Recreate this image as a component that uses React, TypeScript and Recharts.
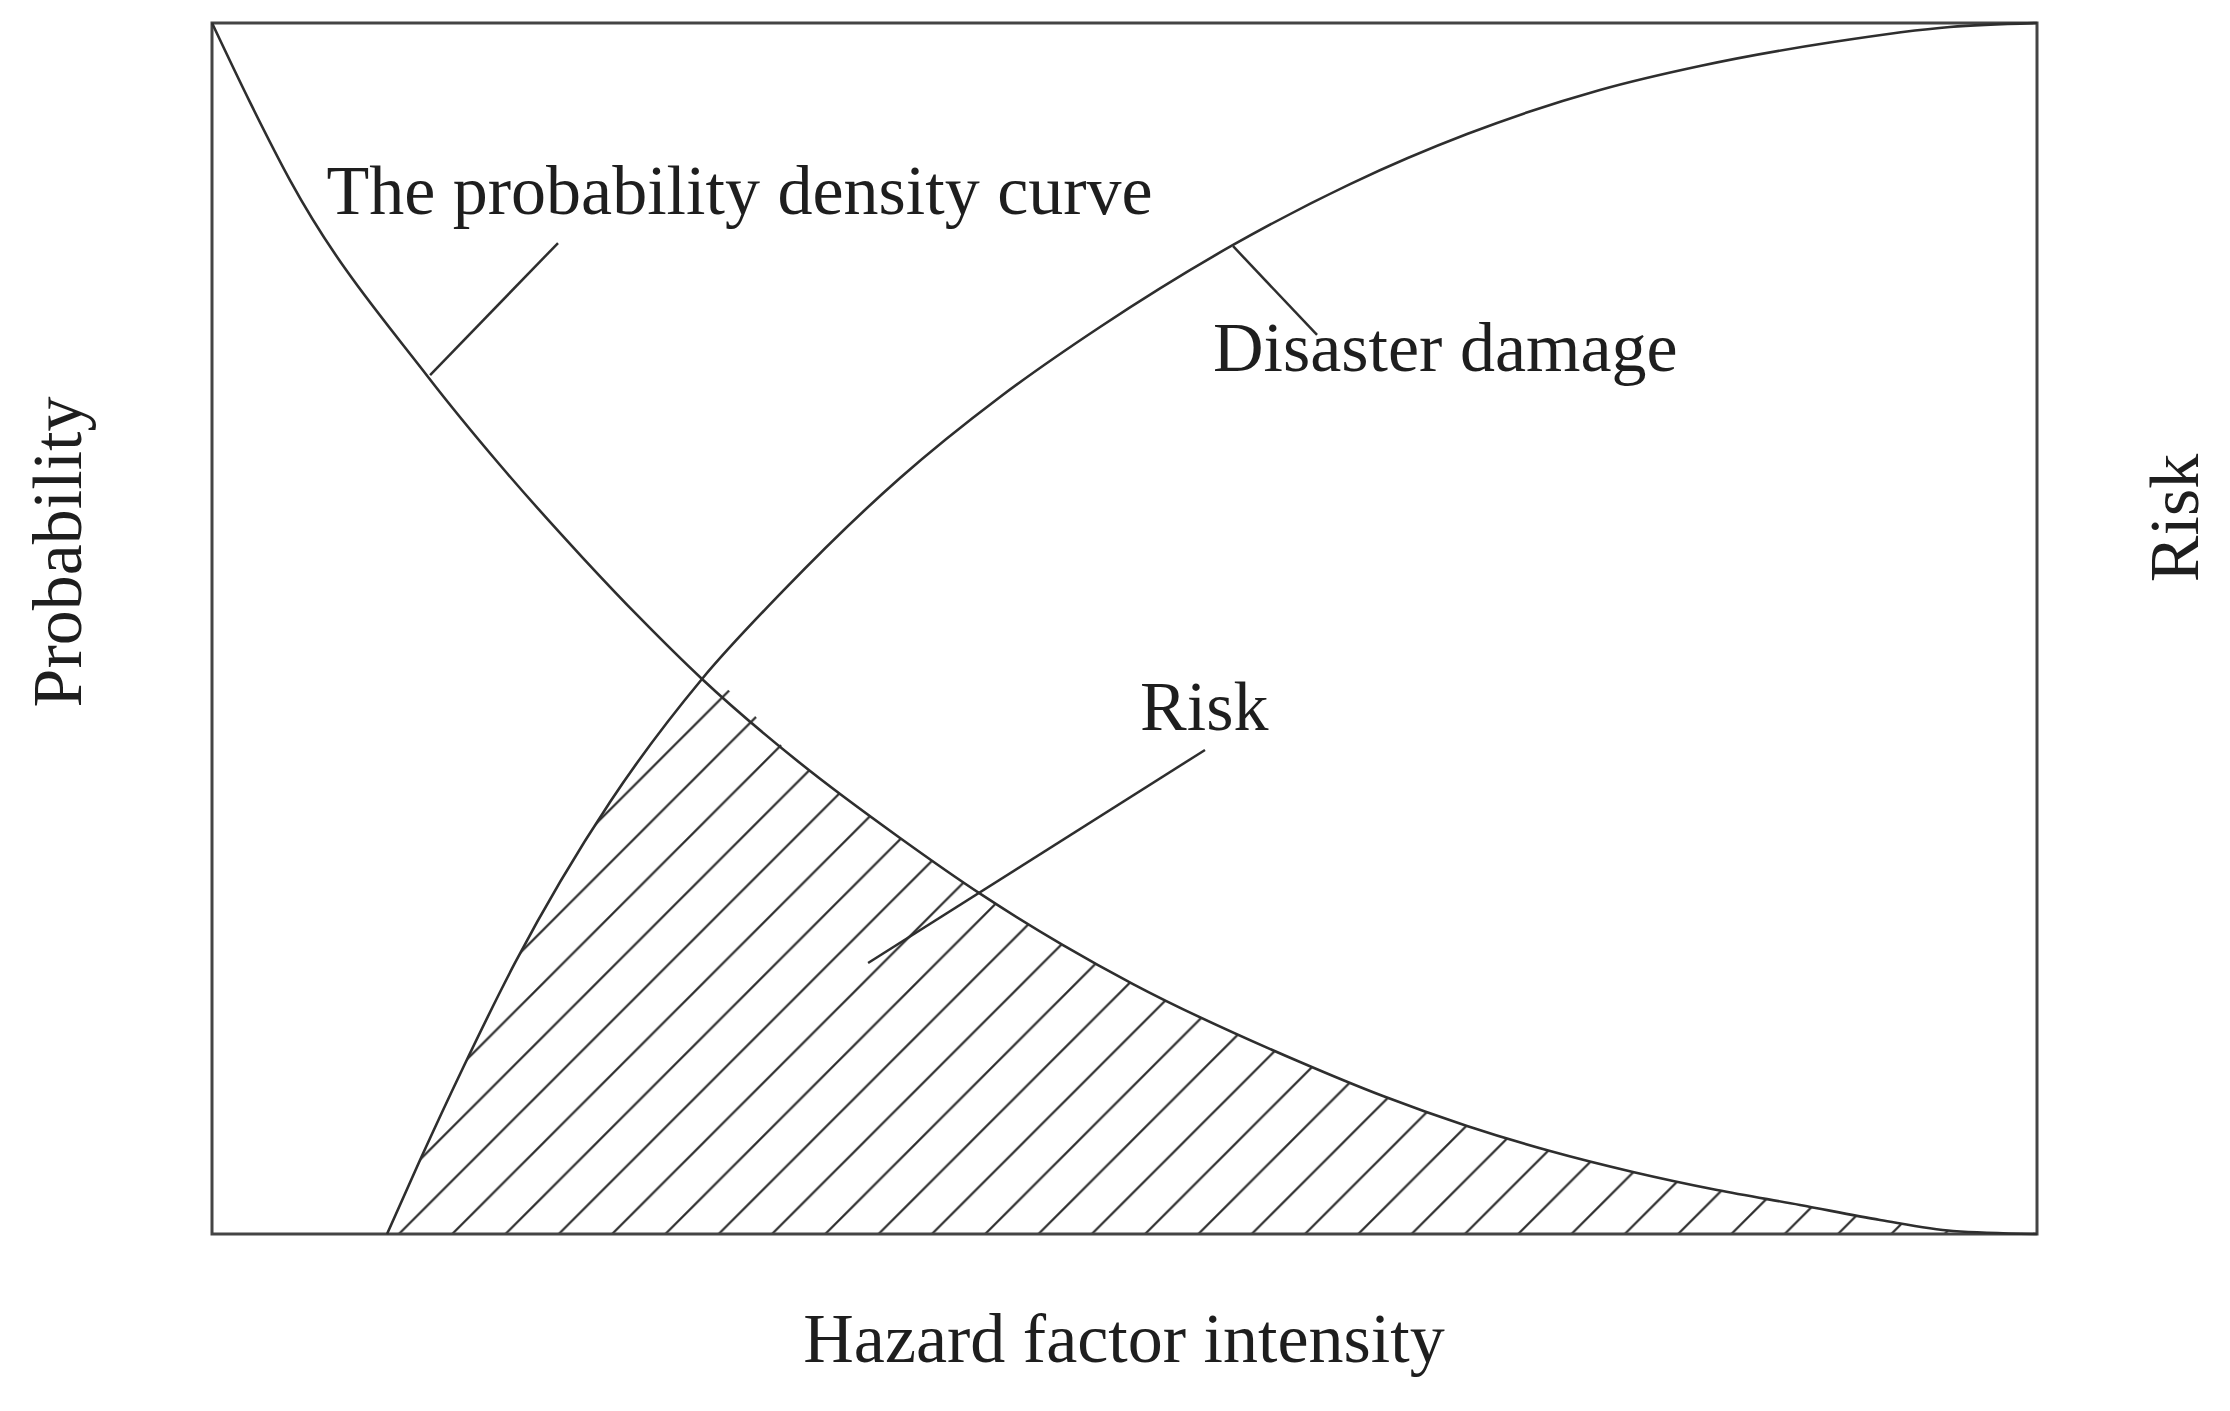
import React from "react";
import {
  ComposedChart,
  Line,
  Area,
  XAxis,
  YAxis,
  ReferenceArea,
  ReferenceLine,
  ReferenceDot,
  Customized,
} from "recharts";

// hazard intensity (0-100) vs probability density
const densityX = [0, 2.1, 4.27, 11.84, 15.78, 20.33, 23.45, 26.85, 32.22, 37.7, 42.19, 46.63, 50.47, 59.62, 64.16, 68.77, 73.32, 77.86, 82.47, 87.01, 91.4, 95.4, 100];
const densityY = [100, 93.4, 87.03, 70.77, 63.5, 55.82, 50.87, 45.83, 38.89, 32.7, 28.0, 23.86, 20.64, 14.2, 11.39, 8.92, 6.85, 5.12, 3.63, 2.4, 1.16, 0.25, 0];

// disaster damage curve
const damageX = [9.59, 11.4, 13.75, 16.6, 21.81, 26.85, 31.29, 37.7, 43.18, 48.66, 55.95, 62.36, 68.77, 76.05, 81.53, 88.82, 95.23, 100];
const damageY = [0, 6.11, 13.71, 22.38, 35.67, 45.83, 53.1, 62.43, 69.12, 74.9, 81.67, 86.7, 90.83, 94.47, 96.45, 98.43, 99.67, 100];

// where the two curves cross
const crossX = 26.85;

const density = densityX.map((x, i) => ({ x, y: densityY[i] }));
const damage = damageX.map((x, i) => ({ x, y: damageY[i] }));
// hatched risk region = lower envelope of the two curves
const risk = [...damage.filter((d) => d.x < crossX), ...density.filter((d) => d.x >= crossX)];

const notes = [
  { text: "The probability density curve", x: 6.27, y: 84.2, from: { x: 18.96, y: 81.83 }, to: { x: 11.95, y: 70.93 } },
  { text: "Disaster damage", x: 54.85, y: 71.3, from: { x: 55.95, y: 81.57 }, to: { x: 60.55, y: 74.24 } },
  { text: "Risk", x: 50.85, y: 41.6, from: { x: 54.41, y: 39.97 }, to: { x: 35.95, y: 22.38 } },
];

const FONT = "'Liberation Serif', 'Times New Roman', serif";
const INK = "#1e1e1e";
const LINE = "#2e2e2e";

function NoteText({ viewBox, value }: any) {
  return (
    <text x={viewBox.x} y={viewBox.y} fontFamily={FONT} fontSize={70} fill={INK}>
      {value}
    </text>
  );
}

function AxisTitles() {
  return (
    <g fontFamily={FONT} fontSize={70} fill={INK}>
      <text x={1124} y={1362} textAnchor="middle">Hazard factor intensity</text>
      <text x={81} y={552} textAnchor="middle" transform="rotate(-90 81 552)">Probability</text>
      <text x={2198} y={518} textAnchor="middle" transform="rotate(-90 2198 518)">Risk</text>
    </g>
  );
}

export default function App() {
  return (
    <div style={{ position: "absolute", left: 0, top: 0, width: 2230, height: 1411, background: "#fff" }}>
      <ComposedChart
        width={2230}
        height={1411}
        margin={{ top: 23, right: 193, bottom: 177, left: 212 }}
      >
        <defs>
          <pattern id="hatch" patternUnits="userSpaceOnUse" width={53.3} height={53.3}>
            <path d="M-10,43.9 L43.9,-10 M23.9,63.3 L63.3,23.9" stroke={LINE} strokeWidth={2.2} />
          </pattern>
        </defs>
        <XAxis dataKey="x" type="number" domain={[0, 100]} hide allowDuplicatedCategory={false} />
        <YAxis type="number" domain={[0, 100]} hide />
        <Area
          data={risk}
          dataKey="y"
          type="monotone"
          fill="url(#hatch)"
          fillOpacity={1}
          stroke="none"
          isAnimationActive={false}
        />
        <Line data={density} dataKey="y" type="monotone" stroke={LINE} strokeWidth={2.6} dot={false} isAnimationActive={false} />
        <Line data={damage} dataKey="y" type="monotone" stroke={LINE} strokeWidth={2.6} dot={false} isAnimationActive={false} />
        {notes.map((n) => (
          <ReferenceLine key={n.text + "-l"} segment={[n.from, n.to]} stroke={LINE} strokeWidth={2.5} />
        ))}
        {notes.map((n) => (
          <ReferenceDot
            key={n.text}
            x={n.x}
            y={n.y}
            r={0}
            stroke="none"
            fill="none"
            label={<NoteText value={n.text} />}
          />
        ))}
        <ReferenceArea x1={0} x2={100} y1={0} y2={100} fill="none" stroke="#444" strokeWidth={3} />
        <Customized component={AxisTitles} />
      </ComposedChart>
    </div>
  );
}
